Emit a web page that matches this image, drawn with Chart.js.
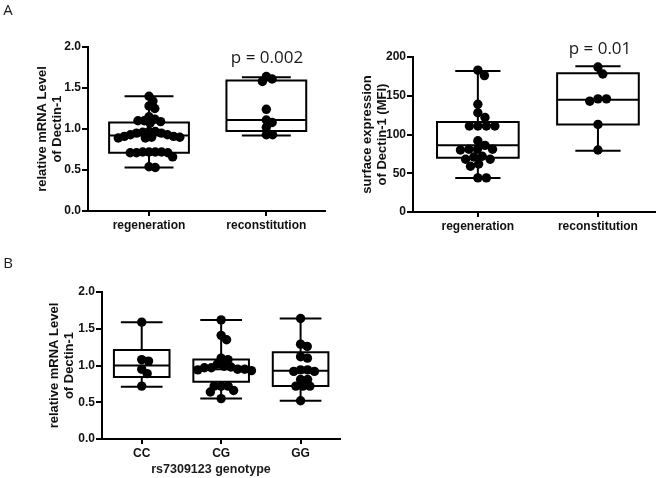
<!DOCTYPE html>
<html>
<head>
<meta charset="utf-8">
<script src="https://cdn.jsdelivr.net/npm/chart.js@4.4.1/dist/chart.umd.min.js"></script>
<style>
  body { margin: 0; background: #fff; }
  #wrap { position: relative; width: 660px; height: 478px; }
  canvas { position: absolute; }
  .lbl { position: absolute; white-space: nowrap; line-height: 1; color: #1a1a1a; transform: translate(-50%, -50%); }
</style>
</head>
<body>
<div id="wrap">
  <canvas id="c1" width="330" height="240" style="left:0;top:0"></canvas>
  <canvas id="c2" width="330" height="240" style="left:330px;top:0"></canvas>
  <canvas id="c3" width="345" height="238" style="left:0;top:240px"></canvas>
  <div class="lbl" style="left:8px;top:9px;font:15px 'Open Sans'">A</div>
  <div class="lbl" style="left:8px;top:262px;font:15px 'Open Sans'">B</div>
  <div class="lbl" style="left:267px;top:56px;font:17px 'Open Sans'">p = 0.002</div>
  <div class="lbl" style="left:600px;top:47px;font:17px 'Open Sans'">p = 0.01</div>
  <div class="lbl" style="left:211px;top:469px;font:bold 12.5px 'Liberation Sans'">rs7309123 genotype</div>
</div>
<script>
// categories
const groupsA = ["regeneration", "reconstitution"];
const genotypes = ["CC", "CG", "GG"];

// panel A left: relative mRNA level of Dectin-1
const mrnaRegeneration = [1.40, 1.34, 1.28, 1.25, 1.15,
  1.10, 1.09, 1.07, 1.10, 1.12,
  0.97, 0.96, 0.95, 0.93, 0.91, 0.90, 0.89, 0.89, 0.90, 0.91, 0.93, 0.95, 0.97,
  0.72, 0.72, 0.71, 0.71, 0.71, 0.72, 0.72, 0.66, 0.53, 0.54];
const mrnaReconstitution = [1.64, 1.61, 1.58, 1.24, 1.11, 1.08, 1.02, 0.93, 0.93];
// [min, q1, median, q3, max]
const mrnaBoxes = [[0.53, 0.71, 0.92, 1.08, 1.40], [0.92, 0.975, 1.11, 1.59, 1.63]];

// panel A right: surface expression (MFI)
const mfiRegeneration = [183, 176, 139, 128, 122, 111, 111, 111, 111, 92, 86, 81, 80, 81, 81,
  71, 68, 72, 68, 62, 59, 44, 44];
const mfiReconstitution = [187, 178, 146, 143, 146, 113, 80];
const mfiBoxes = [[44, 70, 86, 116, 182], [79, 113, 145, 179, 188]];

// panel B: mRNA by genotype
const mrnaCC = [1.59, 1.08, 1.06, 0.95, 0.89, 0.72];
const mrnaCG = [1.62, 1.41, 1.35, 1.10, 1.08, 1.02, 0.99, 0.97, 0.95, 0.94, 0.93, 0.95, 0.97, 0.98,
  0.72, 0.72, 0.72, 0.66, 0.64, 0.55];
const mrnaGG = [1.64, 1.29, 1.26, 1.12, 1.10, 0.94, 0.92, 0.92, 0.94, 0.81, 0.81, 0.72, 0.72, 0.72, 0.52];
const genotypeBoxes = [[0.71, 0.845, 1.0, 1.21, 1.59], [0.55, 0.78, 0.95, 1.08, 1.62], [0.52, 0.72, 0.93, 1.18, 1.64]];

const mrnaTicks = [0, 0.5, 1.0, 1.5, 2.0];
const mfiTicks = [0, 50, 100, 150, 200];

const tickFont = { family: "Liberation Sans", size: 12, weight: "bold" };
const titleFont = { family: "Liberation Sans", size: 13, weight: "bold", lineHeight: 1.15 };

function boxPath(i, s, hw, cw) {
  const [mn, q1, md, q3, mx] = s;
  const gap = { x: i, y: null };
  return [
    { x: i - hw, y: q1 }, { x: i + hw, y: q1 }, { x: i + hw, y: q3 }, { x: i - hw, y: q3 }, { x: i - hw, y: q1 }, gap,
    { x: i - hw, y: md }, { x: i + hw, y: md }, gap,
    { x: i, y: q3 }, { x: i, y: mx }, gap,
    { x: i - cw, y: mx }, { x: i + cw, y: mx }, gap,
    { x: i, y: q1 }, { x: i, y: mn }, gap,
    { x: i - cw, y: mn }, { x: i + cw, y: mn }
  ];
}

function makePanel(id, cats, groups, boxes, yTicks, yTitle, cfg) {
  const datasets = [];
  groups.forEach((vals, i) => {
    datasets.push({
      data: boxPath(i, boxes[i], cfg.hw, cfg.cw),
      borderColor: "#000", borderWidth: 2, pointRadius: 0, pointHoverRadius: 0,
      spanGaps: false, fill: false, tension: 0,
      borderCapStyle: "square", borderJoinStyle: "miter"
    });
  });
  groups.forEach((vals, i) => {
    datasets.push({
      data: vals.map(v => ({ x: i, y: v })),
      showLine: false, pointRadius: 4.7, pointHoverRadius: 4.7,
      pointBackgroundColor: "#000", pointBorderColor: "#000", pointBorderWidth: 0
    });
  });
  const chart = new Chart(document.getElementById(id), {
    type: "line",
    data: { datasets },
    options: {
      responsive: false,
      animation: false,
      events: [],
      layout: { padding: cfg.pad },
      plugins: { legend: { display: false }, tooltip: { enabled: false } },
      scales: {
        x: {
          type: "linear", min: cfg.xmin, max: cfg.xmax,
          afterBuildTicks: s => { s.ticks = cats.map((c, i) => ({ value: i })); },
          afterFit: s => { s.height = cfg.xh; },
          grid: { drawOnChartArea: false, tickLength: 5, color: "#000", lineWidth: 2 },
          border: { color: "#000", width: 2 },
          ticks: { autoSkip: false, maxRotation: 0, padding: 2, color: "#111", font: tickFont,
                   callback: v => cats[v] }
        },
        y: {
          type: "linear", min: yTicks[0], max: yTicks[yTicks.length - 1],
          afterBuildTicks: s => { s.ticks = yTicks.map(v => ({ value: v })); },
          afterFit: s => { s.width = cfg.yw; },
          grid: { drawOnChartArea: false, tickLength: 6, color: "#000", lineWidth: 2 },
          border: { color: "#000", width: 2 },
          ticks: { padding: 1, color: "#111", font: tickFont, callback: cfg.fmt },
          title: { display: true, text: yTitle, color: "#111", font: titleFont, padding: { top: 0, bottom: 0 } }
        }
      }
    }
  });
  swarm(chart, groups.length, groups.length, cfg.d);
  return chart;
}

// spread dots sideways so they do not sit on top of each other
function swarm(chart, first, n, D) {
  const xs = chart.scales.x, ys = chart.scales.y;
  const unit = xs.getPixelForValue(1) - xs.getPixelForValue(0);
  for (let g = 0; g < n; g++) {
    const pts = chart.data.datasets[first + g].data;
    const order = pts.map((p, k) => k).sort((a, b) => pts[b].y - pts[a].y);
    const placed = [];
    order.forEach(k => {
      const py = ys.getPixelForValue(pts[k].y);
      const cands = [0];
      placed.forEach(p => {
        const dy = py - p.y;
        if (Math.abs(dy) < D) {
          const dx = Math.sqrt(D * D - dy * dy);
          cands.push(p.x + dx, p.x - dx);
        }
      });
      cands.sort((a, b) => Math.abs(a) - Math.abs(b));
      const c = cands.find(c => placed.every(p => (c - p.x) ** 2 + (py - p.y) ** 2 >= D * D - 0.01));
      placed.push({ x: c, y: py });
      pts[k].x = g + c / unit;
    });
  }
  chart.update("none");
}

makePanel("c1", groupsA, [mrnaRegeneration, mrnaReconstitution], mrnaBoxes, mrnaTicks,
  ["relative mRNA Level", "of Dectin-1"],
  { pad: { top: 47, left: 35, right: 5, bottom: 0 }, yw: 53, xh: 29, xmin: -0.52, xmax: 1.5,
    hw: 0.34, cw: 0.2, d: 6.3, fmt: v => v.toFixed(1) });

makePanel("c2", groupsA, [mfiRegeneration, mfiReconstitution], mfiBoxes, mfiTicks,
  ["surface expression", "of Dectin-1 (MFI)"],
  { pad: { top: 57, left: 30, right: 5, bottom: 0 }, yw: 53, xh: 28, xmin: -0.54, xmax: 1.475,
    hw: 0.34, cw: 0.18, d: 8.5, fmt: v => v });

makePanel("c3", genotypes, [mrnaCC, mrnaCG, mrnaGG], genotypeBoxes, mrnaTicks,
  ["relative mRNA Level", "of Dectin-1"],
  { pad: { top: 52, left: 47, right: 2, bottom: 0 }, yw: 55, xh: 39, xmin: -0.5, xmax: 2.5,
    hw: 0.35, cw: 0.25, d: 7, fmt: v => v.toFixed(1) });
</script>
</body>
</html>
